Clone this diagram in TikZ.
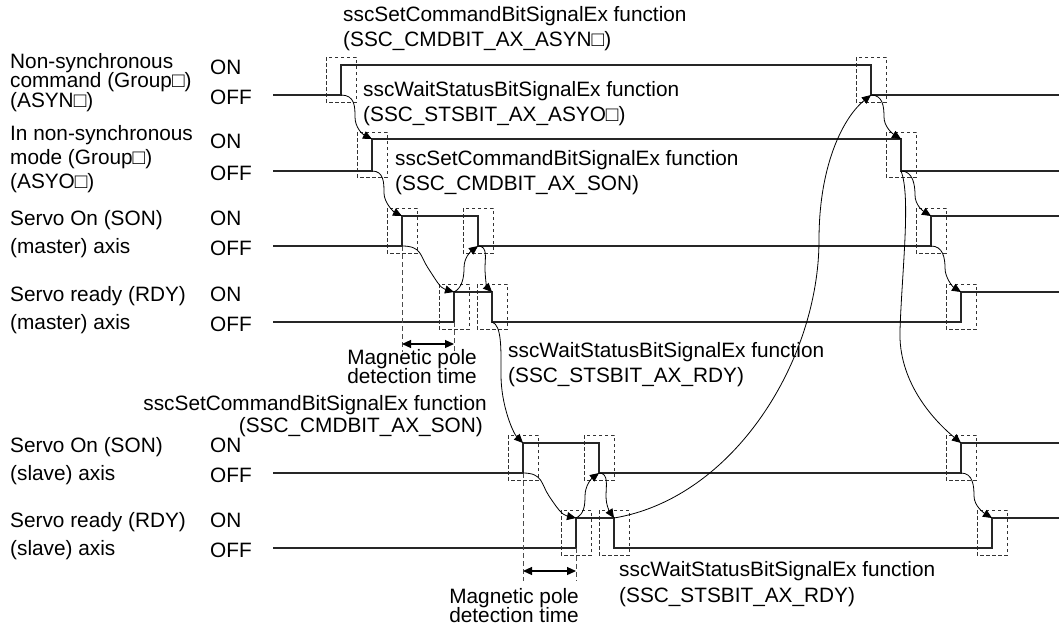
\documentclass[tikz,border=0pt]{standalone}
\usepackage{fontspec}
\setmainfont{Liberation Sans}
\usetikzlibrary{arrows.meta,calc}

\begin{document}
\begin{tikzpicture}[x=1pt,y=-1pt,
  every node/.style={font=\fontsize{20.8}{24}\selectfont, inner sep=0pt, anchor=base west},
  rlbl/.style={anchor=base east},
  sig/.style={line width=1.4pt, black!85},
  flow/.style={-{Triangle[length=9pt,width=8pt]}, line width=0.8pt},
  edgebox/.style={dash pattern=on 3.5pt off 2.5pt, line width=0.9pt, black!80},
  guide/.style={dash pattern=on 5pt off 3pt, line width=0.9pt, black!70},
  dim/.style={{Triangle[length=9pt,width=8pt]}-{Triangle[length=9pt,width=8pt]}, line width=1.2pt},
]
\useasboundingbox (0,0) rectangle (1059,627);

% edge corners
\coordinate (asynR) at (341,95);
\coordinate (asynF) at (871,95);
\coordinate (asyoR) at (372,139);
\coordinate (asyoRb) at (372,171);
\coordinate (asyoF) at (901,139);
\coordinate (asyoFb) at (901,171);
\coordinate (sonMR) at (402,216);
\coordinate (sonMRb) at (402,246);
\coordinate (sonMFb) at (478,246);
\coordinate (sonMR2) at (931,216);
\coordinate (sonMR2b) at (931,246);
\coordinate (rdyMR) at (454,292);
\coordinate (rdyMRb) at (454,322);
\coordinate (rdyMF) at (492,292);
\coordinate (rdyMFb) at (492,322);
\coordinate (rdyMR2) at (961,292);
\coordinate (sonSR) at (523,443);
\coordinate (sonSRb) at (523,473);
\coordinate (sonSFb) at (599,473);
\coordinate (sonSR2) at (961,443);
\coordinate (sonSR2b) at (961,473);
\coordinate (rdySR) at (576,518);
\coordinate (rdySRb) at (576,548);
\coordinate (rdySF) at (614,518);
\coordinate (rdySR2) at (992,518);

% left labels
\node (asynA) at (10,68) {Non-synchronous};
\node (asynB) at (10,87) {command (Group□)};
\node (asynC) at (10,107) {(ASYN□)};
\node (asyoA) at (10,140) {In non-synchronous};
\node (asyoB) at (10,164) {mode (Group□)};
\node (asyoC) at (10,188) {(ASYO□)};
\node (sonMA) at (10,225.5) {Servo On (SON)};
\node (sonMB) at (10,253.5) {(master) axis};
\node (rdyMA) at (10,301.5) {Servo ready (RDY)};
\node (rdyMB) at (10,329.5) {(master) axis};
\node (sonSA) at (10,452.5) {Servo On (SON)};
\node (sonSB) at (10,480.5) {(slave) axis};
\node (rdySA) at (10,527.5) {Servo ready (RDY)};
\node (rdySB) at (10,555.5) {(slave) axis};

% ON / OFF
\foreach \lv/\nm in {65/asyn, 139/asyo, 216/sonM, 292/rdyM, 443/sonS, 518/rdyS}
  \node (on\nm) at (210,\lv+9.5) {ON};
\foreach \lv/\nm in {95/asyn, 171/asyo, 246/sonM, 322/rdyM, 473/sonS, 548/rdyS}
  \node (off\nm) at (210,\lv+9.5) {OFF};

% dashed boxes round the edges
\foreach \x/\y in {341/57, 871/57, 372/132, 901/132, 402/208, 478/208, 931/208,
  454/284, 492/284, 961/284, 523/435, 599/435, 961/435, 576/510, 614/510, 992/510}
  \draw[edgebox] (\x-15,\y) rectangle (\x+15,\y+45);

% signals
\draw[sig] (273,95) -- (asynR) -- (341,65) -- (871,65) -- (asynF) -- (1059,95);
\draw[sig] (273,171) -- (asyoRb) -- (asyoR) -- (asyoF) -- (asyoFb) -- (1059,171);
\draw[sig] (273,246) -- (sonMRb) -- (sonMR) -- (478,216) -- (sonMFb) -- (sonMR2b) -- (sonMR2) -- (1059,216);
\draw[sig] (273,322) -- (rdyMRb) -- (rdyMR) -- (rdyMF) -- (rdyMFb) -- (961,322) -- (rdyMR2) -- (1059,292);
\draw[sig] (273,473) -- (sonSRb) -- (sonSR) -- (599,443) -- (sonSFb) -- (sonSR2b) -- (sonSR2) -- (1059,443);
\draw[sig] (273,548) -- (rdySRb) -- (rdySR) -- (rdySF) -- (614,548) -- (992,548) -- (rdySR2) -- (1059,518);

% magnetic pole detection time
\coordinate (dimMa) at (402,344);
\coordinate (dimMb) at (454,344);
\coordinate (dimSa) at (523,571);
\coordinate (dimSb) at (576,571);
\draw[guide] (sonMRb) -- ($(dimMa)+(0,8)$);
\draw[guide] (rdyMRb) -- ($(dimMb)+(0,8)$);
\draw[guide] (sonSRb) -- ($(dimSa)+(0,10)$);
\draw[guide] (rdySRb) -- ($(dimSb)+(0,10)$);
\draw[dim] (dimMa) -- (dimMb);
\draw[dim] (dimSa) -- (dimSb);

% handshake curves
\draw[flow] (asynR) .. controls +(14,0) and +(0,-10) .. (355,117) .. controls +(0,10) and +(-10,-5) .. (asyoR);
\draw[flow] (asyoRb) .. controls +(12,0) and +(0,-10) .. (384,193) .. controls +(0,10) and +(-8,-4) .. (sonMR);
\draw[flow] (sonMRb) .. controls +(20,0) and +(-8,-12) .. (428,268) .. controls +(8,12) and +(-14,-4) .. (rdyMR);
\draw[flow] (rdyMR) .. controls +(8,-4) and +(0,10) .. (464,268) .. controls +(0,-10) and +(-8,6) .. (sonMFb);
\draw[flow] (sonMFb) .. controls +(10,0) and +(0,-10) .. (485,268) .. controls +(0,10) and +(-5,-5) .. (rdyMF);
\draw[flow] (rdyMFb) .. controls +(10,3) and +(0,-25) .. (501,375) .. controls +(0,30) and +(-10,-10) .. (sonSR);
\draw[flow] (sonSRb) .. controls +(20,0) and +(-8,-12) .. (549,496) .. controls +(8,12) and +(-14,-3) .. (rdySR);
\draw[flow] (rdySR) .. controls +(8,-4) and +(0,10) .. (585,496) .. controls +(0,-10) and +(-8,6) .. (sonSFb);
\draw[flow] (sonSFb) .. controls +(10,0) and +(0,-10) .. (606,496) .. controls +(0,10) and +(-4,-6) .. (rdySF);
\draw[flow] (rdySF) .. controls +(120,-20) and +(0,120) .. (819,240) .. controls +(0,-80) and +(-25,20) .. (asynF);
\draw[flow] (asynF) .. controls +(12,0) and +(0,-10) .. (884,117) .. controls +(0,10) and +(-8,-5) .. (asyoF);
\draw[flow] (asyoFb) .. controls +(12,0) and +(0,-10) .. (915,195) .. controls +(0,10) and +(-8,-5) .. (sonMR2);
\draw[flow] (asyoFb) .. controls +(10,25) and +(2,-60) .. (900,330) .. controls +(-2,50) and +(-30,-25) .. (sonSR2);
\draw[flow] (sonMR2b) .. controls +(12,0) and +(0,-10) .. (945,268) .. controls +(0,10) and +(-8,-5) .. (rdyMR2);
\draw[flow] (sonSR2b) .. controls +(12,0) and +(0,-10) .. (974,496) .. controls +(0,10) and +(-8,-5) .. (rdySR2);

% function labels
\node (fnAsyn) at (343,21.7) {sscSetCommandBitSignalEx function};
\node (argAsyn) at (343,46) {(SSC\_CMDBIT\_AX\_ASYN□)};
\node (fnAsyo) at (363,96.7) {sscWaitStatusBitSignalEx function};
\node (argAsyo) at (363,121.7) {(SSC\_STSBIT\_AX\_ASYO□)};
\node (fnSonM) at (395,165) {sscSetCommandBitSignalEx function};
\node (argSonM) at (395,190) {(SSC\_CMDBIT\_AX\_SON)};
\node[rlbl] (magMA) at (477,364) {Magnetic pole};
\node[rlbl] (magMB) at (477,383) {detection time};
\node (fnRdyM) at (508,357) {sscWaitStatusBitSignalEx function};
\node (argRdyM) at (508,382) {(SSC\_STSBIT\_AX\_RDY)};
\node[rlbl] (fnSonS) at (487,410) {sscSetCommandBitSignalEx function};
\node[rlbl] (argSonS) at (483,432) {(SSC\_CMDBIT\_AX\_SON)};
\node[rlbl] (magSA) at (579,603) {Magnetic pole};
\node[rlbl] (magSB) at (579,622) {detection time};
\node (fnRdyS) at (619,576.7) {sscWaitStatusBitSignalEx function};
\node (argRdyS) at (619,602) {(SSC\_STSBIT\_AX\_RDY)};
\end{tikzpicture}
\end{document}
